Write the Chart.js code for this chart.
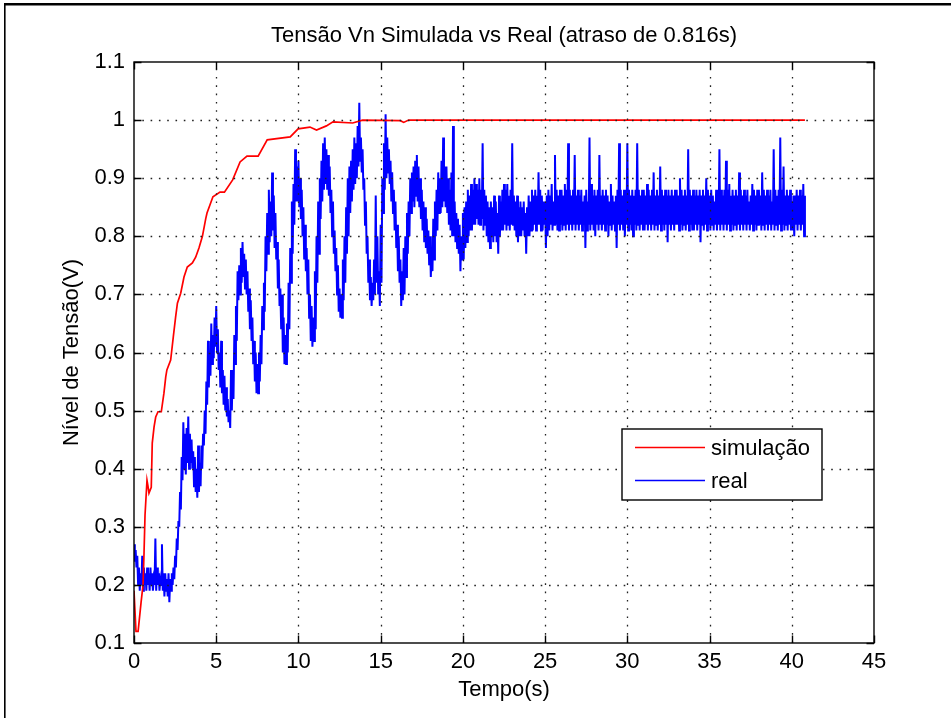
<!DOCTYPE html>
<html><head><meta charset="utf-8">
<script src="https://cdn.jsdelivr.net/npm/chart.js@4.4.1/dist/chart.umd.min.js"></script>
<style>html,body{margin:0;padding:0;background:#fff}#wrap{width:951px;height:718px;position:relative}canvas{display:block}</style>
</head><body><div id="wrap"><canvas id="c" width="951" height="718"></canvas></div>
<script>
const titleText = 'Tensão Vn Simulada vs Real (atraso de 0.816s)';
const xAxisLabel = 'Tempo(s)';
const yAxisLabel = 'Nível de Tensão(V)';
const seriesNames = ['simulação', 'real'];
const xTicks = [0, 5, 10, 15, 20, 25, 30, 35, 40, 45];
const yTicks = [0.1, 0.2, 0.3, 0.4, 0.5, 0.6, 0.7, 0.8, 0.9, 1.0, 1.1];

// simulated response (time in s, value in V)
const simTime = [0,0.12,0.25,0.43,0.55,0.61,0.67,0.79,0.85,0.91,
  1.05,1.11,1.22,1.32,1.46,1.66,1.82,1.93,2.0,2.23,
  2.39,2.53,2.64,2.84,3.04,3.24,3.55,3.75,3.95,4.16,
  4.36,4.44,4.8,5.23,5.5,6.0,6.45,6.87,7.55,8.1,
  9.5,9.98,10.7,11.1,11.7,12.1,13.3,13.9,16.2,16.4,
  16.7,40.8];
const simValues = [0.19,0.12,0.12,0.17,0.20,0.255,0.32,0.38,0.37,0.358,
  0.368,0.444,0.472,0.489,0.498,0.498,0.53,0.558,0.57,0.587,
  0.627,0.661,0.685,0.702,0.73,0.747,0.754,0.764,0.78,0.80,
  0.83,0.84,0.868,0.876,0.876,0.897,0.928,0.938,0.938,0.966,
  0.971,0.985,0.988,0.983,0.99,0.997,0.995,1.0,0.999,0.996,
  1.0,1.0];

// measured signal, sampled every realStep seconds from realStart (one row = 1 s)
const realStart = 0;
const realStep = 0.05;
const realValues = [
  0.27,0.24,0.26,0.23,0.25,0.20,0.23,0.19,0.22,0.20,0.25,0.19,0.23,0.20,0.22,0.19,0.23,0.20,0.22,0.19,
  0.23,0.20,0.22,0.19,0.21,0.20,0.28,0.19,0.23,0.20,0.22,0.19,0.21,0.20,0.27,0.19,0.22,0.18,0.22,0.19,
  0.21,0.18,0.22,0.17,0.21,0.19,0.22,0.20,0.23,0.21,0.25,0.23,0.28,0.26,0.31,0.30,0.36,0.33,0.42,0.38,
  0.48,0.40,0.46,0.39,0.47,0.41,0.49,0.40,0.46,0.41,0.45,0.40,0.43,0.37,0.42,0.36,0.40,0.35,0.44,0.36,
  0.41,0.37,0.44,0.40,0.46,0.44,0.50,0.46,0.55,0.51,0.62,0.54,0.60,0.56,0.65,0.58,0.63,0.59,0.66,0.61,
  0.68,0.60,0.64,0.57,0.60,0.54,0.62,0.53,0.57,0.51,0.56,0.50,0.54,0.49,0.52,0.48,0.50,0.47,0.57,0.50,
  0.57,0.52,0.63,0.58,0.68,0.62,0.74,0.69,0.75,0.70,0.78,0.72,0.79,0.73,0.77,0.71,0.76,0.70,0.74,0.67,
  0.71,0.64,0.69,0.62,0.66,0.58,0.62,0.55,0.60,0.53,0.58,0.53,0.60,0.55,0.63,0.58,0.68,0.64,0.72,0.67,
  0.80,0.74,0.84,0.77,0.88,0.79,0.86,0.80,0.91,0.81,0.87,0.78,0.84,0.76,0.79,0.71,0.76,0.68,0.71,0.64,
  0.70,0.60,0.66,0.58,0.63,0.58,0.65,0.60,0.72,0.64,0.78,0.72,0.86,0.77,0.89,0.82,0.95,0.86,0.92,0.86,
  0.93,0.85,0.90,0.83,0.88,0.80,0.85,0.76,0.82,0.74,0.78,0.70,0.76,0.66,0.70,0.62,0.68,0.61,0.66,0.62,
  0.74,0.64,0.80,0.72,0.86,0.77,0.90,0.83,0.93,0.86,0.96,0.88,0.97,0.89,0.95,0.88,0.94,0.87,0.92,0.84,
  0.88,0.80,0.86,0.77,0.81,0.74,0.78,0.70,0.75,0.67,0.71,0.66,0.70,0.66,0.76,0.69,0.80,0.72,0.85,0.77,
  0.90,0.80,0.92,0.84,0.93,0.86,0.95,0.88,0.97,0.89,0.96,0.90,0.99,0.92,1.03,0.93,0.97,0.91,0.95,0.88,
  0.90,0.82,0.86,0.77,0.80,0.72,0.76,0.69,0.73,0.68,0.72,0.69,0.76,0.70,0.87,0.72,0.80,0.70,0.74,0.68,
  0.82,0.72,0.90,0.84,0.96,0.88,1.01,0.90,0.97,0.91,0.95,0.89,0.93,0.86,0.91,0.84,0.88,0.81,0.86,0.78,
  0.82,0.74,0.80,0.72,0.76,0.68,0.74,0.69,0.78,0.70,0.80,0.73,0.84,0.77,0.86,0.80,0.90,0.84,0.91,0.86,
  0.92,0.85,0.93,0.87,0.94,0.86,0.92,0.85,0.90,0.83,0.88,0.81,0.86,0.79,0.85,0.78,0.83,0.77,0.81,0.75,
  0.80,0.73,0.78,0.74,0.83,0.76,0.86,0.80,0.88,0.81,0.91,0.84,0.90,0.84,0.93,0.85,0.97,0.86,0.92,0.85,
  0.92,0.84,0.90,0.82,0.88,0.81,0.91,0.80,0.99,0.80,0.86,0.79,0.84,0.78,0.83,0.77,0.82,0.74,0.80,0.76,
  0.84,0.76,0.85,0.78,0.86,0.79,0.88,0.80,0.87,0.81,0.89,0.81,0.88,0.82,0.90,0.82,0.89,0.83,0.88,0.82,
  0.90,0.82,0.88,0.83,0.96,0.81,0.88,0.82,0.87,0.80,0.86,0.79,0.85,0.78,0.86,0.80,0.85,0.79,0.87,0.80,
  0.86,0.79,0.84,0.77,0.87,0.80,0.86,0.81,0.88,0.81,0.89,0.82,0.88,0.81,0.89,0.82,0.87,0.81,0.88,0.82,
  0.96,0.82,0.87,0.81,0.86,0.80,0.87,0.79,0.85,0.80,0.86,0.80,0.85,0.81,0.86,0.80,0.84,0.77,0.85,0.80,
  0.87,0.80,0.86,0.81,0.88,0.81,0.87,0.82,0.88,0.81,0.87,0.82,0.91,0.82,0.88,0.81,0.87,0.81,0.86,0.82,
  0.86,0.78,0.87,0.80,0.88,0.81,0.87,0.82,0.89,0.81,0.86,0.82,0.94,0.82,0.88,0.81,0.87,0.81,0.88,0.82,
  0.88,0.81,0.87,0.82,0.89,0.81,0.88,0.82,0.96,0.81,0.88,0.82,0.87,0.81,0.88,0.82,0.94,0.81,0.87,0.82,
  0.88,0.81,0.87,0.82,0.88,0.81,0.86,0.82,0.87,0.78,0.88,0.81,0.86,0.82,0.97,0.81,0.89,0.82,0.87,0.81,
  0.88,0.80,0.87,0.82,0.88,0.81,0.94,0.82,0.87,0.81,0.88,0.82,0.87,0.81,0.88,0.82,0.87,0.80,0.86,0.82,
  0.89,0.81,0.87,0.82,0.86,0.81,0.87,0.78,0.88,0.82,0.96,0.81,0.88,0.82,0.87,0.81,0.88,0.80,0.87,0.82,
  0.96,0.81,0.88,0.82,0.87,0.81,0.88,0.80,0.87,0.82,0.88,0.81,0.96,0.82,0.88,0.81,0.87,0.82,0.88,0.81,
  0.88,0.81,0.87,0.82,0.89,0.81,0.88,0.82,0.87,0.81,0.88,0.82,0.91,0.81,0.87,0.82,0.88,0.81,0.87,0.82,
  0.92,0.81,0.88,0.82,0.87,0.81,0.88,0.82,0.87,0.79,0.88,0.82,0.87,0.81,0.88,0.82,0.87,0.81,0.88,0.82,
  0.88,0.82,0.87,0.81,0.90,0.82,0.88,0.81,0.87,0.82,0.88,0.81,0.87,0.82,0.95,0.81,0.88,0.82,0.87,0.81,
  0.88,0.81,0.87,0.82,0.88,0.81,0.87,0.82,0.88,0.79,0.87,0.82,0.88,0.81,0.87,0.82,0.90,0.81,0.88,0.82,
  0.87,0.81,0.88,0.82,0.87,0.81,0.86,0.82,0.88,0.81,0.87,0.82,0.95,0.81,0.88,0.82,0.87,0.81,0.88,0.82,
  0.93,0.81,0.88,0.82,0.89,0.81,0.87,0.82,0.88,0.81,0.87,0.82,0.88,0.81,0.87,0.82,0.91,0.81,0.88,0.82,
  0.87,0.81,0.88,0.82,0.87,0.81,0.88,0.82,0.86,0.81,0.87,0.82,0.89,0.81,0.88,0.82,0.87,0.81,0.88,0.82,
  0.88,0.82,0.87,0.81,0.91,0.82,0.88,0.81,0.87,0.82,0.88,0.81,0.87,0.82,0.88,0.81,0.86,0.82,0.95,0.81,
  0.88,0.82,0.87,0.81,0.88,0.82,0.97,0.81,0.88,0.82,0.92,0.81,0.87,0.82,0.88,0.81,0.87,0.82,0.88,0.81,
  0.86,0.81,0.87,0.80,0.87,0.82,0.88,0.81,0.87,0.82,0.88,0.81,0.87,0.82,0.89,0.80,0.87
];

const FONT = 'Liberation Sans, Arial, sans-serif';
const simData = simTime.map((t, i) => ({x: t, y: simValues[i]}));
const realData = realValues.map((v, i) => ({x: realStart + i * realStep, y: v}));

const matlabPlugin = {
  id: 'matlab',
  afterDatasetsDraw(chart) {
    const {ctx, chartArea: a, scales: {x, y}} = chart;
    ctx.save();
    // dotted grid
    ctx.strokeStyle = '#222';
    ctx.lineWidth = 1.3;
    ctx.setLineDash([1.6, 6.7]);
    xTicks.forEach(v => {
      const px = Math.round(x.getPixelForValue(v)) + 0.5;
      if (px > a.left + 2 && px < a.right - 2) {
        ctx.beginPath(); ctx.moveTo(px, a.bottom); ctx.lineTo(px, a.top); ctx.stroke();
      }
    });
    yTicks.forEach(v => {
      const py = Math.round(y.getPixelForValue(v)) + 0.5;
      if (py > a.top + 2 && py < a.bottom - 2) {
        ctx.beginPath(); ctx.moveTo(a.left, py); ctx.lineTo(a.right, py); ctx.stroke();
      }
    });
    ctx.setLineDash([]);
    // axes box
    ctx.strokeStyle = '#000';
    ctx.lineWidth = 1.4;
    ctx.strokeRect(a.left, a.top, a.right - a.left, a.bottom - a.top);
    // inward ticks on all four sides
    const tl = 7.5;
    ctx.beginPath();
    xTicks.forEach(v => {
      const px = Math.round(x.getPixelForValue(v)) + 0.5;
      ctx.moveTo(px, a.bottom); ctx.lineTo(px, a.bottom - tl);
      ctx.moveTo(px, a.top); ctx.lineTo(px, a.top + tl);
    });
    yTicks.forEach(v => {
      const py = Math.round(y.getPixelForValue(v)) + 0.5;
      ctx.moveTo(a.left, py); ctx.lineTo(a.left + tl, py);
      ctx.moveTo(a.right, py); ctx.lineTo(a.right - tl, py);
    });
    ctx.stroke();
    // legend box
    const lx = a.right - 252, ly = a.top + 367, lw = 200, lh = 71;
    ctx.fillStyle = '#fff';
    ctx.fillRect(lx, ly, lw, lh);
    ctx.lineWidth = 1.4;
    ctx.strokeRect(lx, ly, lw, lh);
    const ds = chart.data.datasets;
    const rows = [18.5, 51.5];
    const textRows = [20, 52.6];
    ds.forEach((d, i) => {
      ctx.strokeStyle = d.borderColor;
      ctx.lineWidth = 1.7;
      ctx.beginPath(); ctx.moveTo(lx + 13, ly + rows[i]); ctx.lineTo(lx + 83, ly + rows[i]); ctx.stroke();
      ctx.fillStyle = '#000';
      ctx.font = '22px ' + FONT;
      ctx.textBaseline = 'middle';
      ctx.textAlign = 'left';
      ctx.fillText(d.label, lx + 89, ly + textRows[i]);
    });
    ctx.restore();
  },
  afterDraw(chart) {
    const ctx = chart.ctx;
    ctx.save();
    ctx.fillStyle = '#000';
    ctx.fillRect(4, 3, 947, 2.5);
    ctx.fillRect(4, 3, 1.6, 715);
    ctx.restore();
  }
};

new Chart(document.getElementById('c'), {
  type: 'line',
  data: {
    datasets: [
      {label: seriesNames[0], data: simData, borderColor: 'rgb(255,0,0)', borderWidth: 1.7, pointRadius: 0, fill: false, tension: 0},
      {label: seriesNames[1], data: realData, borderColor: 'rgb(0,0,255)', borderWidth: 2, pointRadius: 0, fill: false, tension: 0}
    ]
  },
  options: {
    responsive: false,
    animation: false,
    devicePixelRatio: 1,
    layout: {padding: {left: 0, top: 0, right: 77, bottom: 0}},
    plugins: {
      legend: {display: false},
      tooltip: {enabled: false},
      title: {
        display: true, text: titleText, fullSize: false, color: '#000',
        font: {family: FONT, size: 22, weight: 'normal', lineHeight: 1.2},
        padding: {top: 22.5, bottom: 13.1}
      }
    },
    scales: {
      x: {
        type: 'linear', min: 0, max: 45,
        afterBuildTicks: s => { s.ticks = xTicks.map(v => ({value: v})); },
        afterFit: s => { s.height = 75; },
        grid: {display: false, drawTicks: false},
        border: {display: false},
        ticks: {color: '#000', font: {family: FONT, size: 22}, padding: 6, maxRotation: 0,
                callback: v => String(v)},
        title: {display: true, text: xAxisLabel, color: '#000', font: {family: FONT, size: 22, lineHeight: 1.2},
                padding: {top: 0, bottom: 14.8}}
      },
      y: {
        type: 'linear', min: 0.1, max: 1.1,
        afterBuildTicks: s => { s.ticks = yTicks.map(v => ({value: v})); },
        afterFit: s => { s.width = 134; },
        grid: {display: false, drawTicks: false},
        border: {display: false},
        ticks: {color: '#000', font: {family: FONT, size: 22}, padding: 9,
                callback: v => String(+(+v).toFixed(1))},
        title: {display: true, text: yAxisLabel, color: '#000', font: {family: FONT, size: 22, lineHeight: 1.2},
                padding: {top: 58.8, bottom: 0}}
      }
    }
  },
  plugins: [matlabPlugin]
});
</script>
</body></html>
